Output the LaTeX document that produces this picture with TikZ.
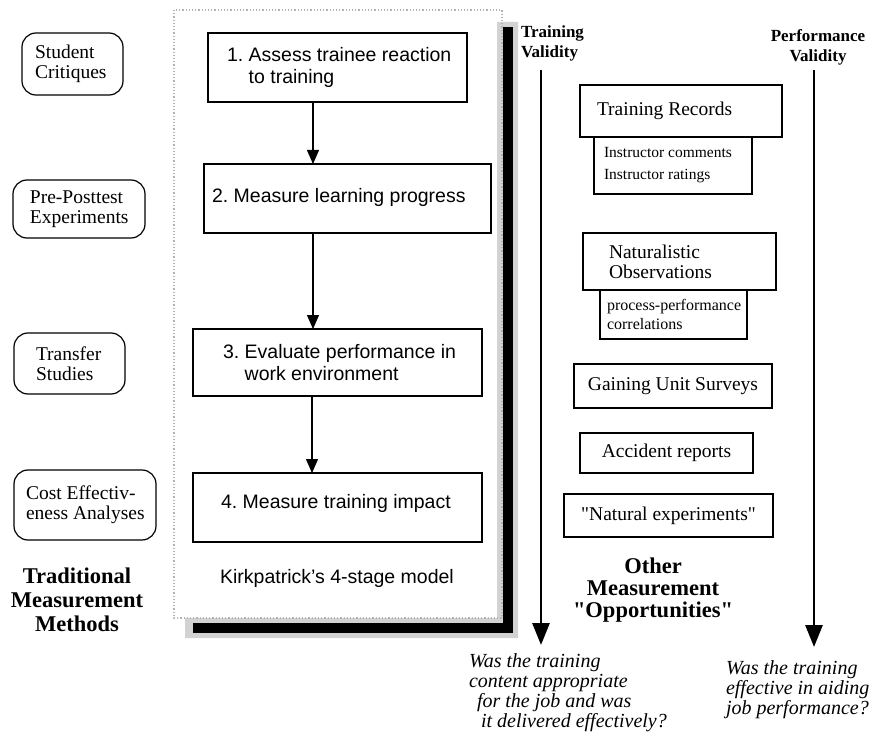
\documentclass[tikz,border=0pt]{standalone}
\usepackage{fontspec}
\setmainfont{Liberation Serif}[Ligatures=TeXOff]
\newfontfamily\hvf{Liberation Sans}
\usetikzlibrary{arrows.meta}
\newcommand\dqt{\symbol{34}}
\begin{document}
\frenchspacing
\begin{tikzpicture}[x=1pt,y=-1pt,
  every node/.style={inner sep=0pt, outer sep=0pt},
  lbox/.style={draw, rounded corners=14pt, line width=1.2pt, anchor=north west},
  kbox/.style={draw, line width=1.1pt, anchor=north west},
  tbox/.style={draw, line width=2.6pt, anchor=north west, fill=white},
  obox/.style={draw, line width=1.1pt, anchor=north west, font=\fontsize{19.5}{20}\selectfont},
  ltxt/.style={anchor=west, align=left, font=\fontsize{19.5}{20}\selectfont},
  ktxt/.style={anchor=west, align=left, font=\hvf\fontsize{19.5}{21.5}\selectfont},
  stxt/.style={anchor=west, align=left, font=\fontsize{15.5}{22}\selectfont},
  head/.style={align=center, font=\bfseries\fontsize{22.5}{24}\selectfont},
  vlab/.style={font=\bfseries\fontsize{17}{20}\selectfont},
  quest/.style={align=left, anchor=west, font=\itshape\fontsize{20}{20}\selectfont},
  arr/.style={-{Triangle[length=14pt,width=12pt]}, line width=1.3pt},
  bigarr/.style={-{Triangle[length=22pt,width=17pt]}, line width=2.8pt}
]
\useasboundingbox[fill=white] (0,0) rectangle (871,733);

% left column
\node[lbox, minimum width=101pt, minimum height=62pt] (sc) at (22,33) {};
\node[ltxt] (sct) at ([xshift=13pt]sc.west) {Student\\Critiques};
\node[lbox, minimum width=132pt, minimum height=58pt] (pp) at (13,180) {};
\node[ltxt] (ppt) at ([xshift=17pt]pp.west) {Pre-Posttest\\Experiments};
\node[lbox, minimum width=111pt, minimum height=61pt] (ts) at (14,333) {};
\node[ltxt] (tst) at ([xshift=22pt]ts.west) {Transfer\\Studies};
\node[lbox, minimum width=142pt, minimum height=70pt] (ce) at (14,470) {};
\node[ltxt] (cet) at ([xshift=12pt]ce.west) {Cost Effectiv-\\eness Analyses};
\node[head] (tmm) at (77,600) {Traditional\\Measurement\\Methods};

% container with shadow
\fill[gray!35] (497,22) -- (518,22) -- (518,638) -- (185,638) -- (185,618) -- (497,618) -- cycle;
\fill[black] (503,27) rectangle (513,633);
\fill[black] (193,623) rectangle (513,633);
\draw[gray!60, dotted, line width=1.2pt] (174,10) rectangle (502,618);

% Kirkpatrick stages
\node[kbox, minimum width=259pt, minimum height=69pt] (b1) at (208,33) {};
\node[ktxt] (b1t) at ([xshift=19pt]b1.west) {1. Assess trainee reaction\\\phantom{1. }to training};
\node[kbox, minimum width=287pt, minimum height=69pt] (b2) at (204,164) {};
\node[ktxt] (b2t) at ([xshift=8pt, yshift=1pt]b2.west) {2. Measure learning progress};
\node[kbox, minimum width=289pt, minimum height=67pt] (b3) at (193,329) {};
\node[ktxt] (b3t) at ([xshift=30pt]b3.west) {3. Evaluate performance in\\\phantom{3. }work environment};
\node[kbox, minimum width=289pt, minimum height=69pt] (b4) at (193,473) {};
\node[ktxt] (b4t) at ([xshift=28pt, yshift=4pt]b4.west) {4. Measure training impact};
\node[font=\hvf\fontsize{19.5}{22}\selectfont] (kp) at (337,578) {Kirkpatrick’s 4-stage model};

\coordinate (ax) at (313,0);
\coordinate (ax2) at (312,0);
\draw[arr] (ax |- b1.south) -- (ax |- b2.north);
\draw[arr] (ax |- b2.south) -- (ax |- b3.north);
\draw[arr] (ax2 |- b3.south) -- (ax2 |- b4.north);

% validity arrows
\node[vlab, align=left, anchor=west] (tvl) at (521,43) {Training\\Validity};
\node[vlab, align=center] (pvl) at (818,47) {Performance\\Validity};
\coordinate (tvs) at (541,70);
\coordinate (tve) at (541,645);
\coordinate (pvs) at (814,70);
\coordinate (pve) at (814,647);
\draw[bigarr] (tvs) -- (tve);
\draw[bigarr] (pvs) -- (pve);

% other opportunities
\node[kbox, minimum width=158pt, minimum height=57pt] (trs) at (594,137) {};
\node[stxt] (trst) at ([xshift=10pt]trs.west) {Instructor comments\\Instructor ratings};
\node[tbox, minimum width=202pt, minimum height=52pt] (tr) at (580,85) {};
\node[ltxt] (trt) at ([xshift=17pt]tr.west) {Training Records};
\node[kbox, minimum width=147pt, minimum height=49pt] (nos) at (600,290) {};
\node[stxt, font=\fontsize{16}{19}\selectfont] (nost) at ([xshift=7pt]nos.west) {process-performance\\correlations};
\node[tbox, minimum width=193pt, minimum height=57pt] (no) at (583,233) {};
\node[ltxt] (not) at ([xshift=26pt]no.west) {Naturalistic\\Observations};
\node[obox, minimum width=198pt, minimum height=44pt] (gus) at (574,364) {Gaining Unit Surveys};
\node[obox, minimum width=173pt, minimum height=40pt] (ar) at (580,433) {Accident reports};
\node[obox, minimum width=209pt, minimum height=43pt] (ne) at (564,494) {\dqt Natural experiments\dqt};
\node[head, font=\bfseries\fontsize{22.5}{22}\selectfont] (omo) at (653,590) {Other\\Measurement\\\dqt Opportunities\dqt};

% questions
\node[quest] (q1) at (469,693) {Was the training\\content appropriate\\\hspace*{8pt}for the job and was\\\hspace*{12pt}it delivered effectively?};
\node[quest] (q2) at (726,690) {Was the training\\effective in aiding\\job performance?};
\end{tikzpicture}
\end{document}
